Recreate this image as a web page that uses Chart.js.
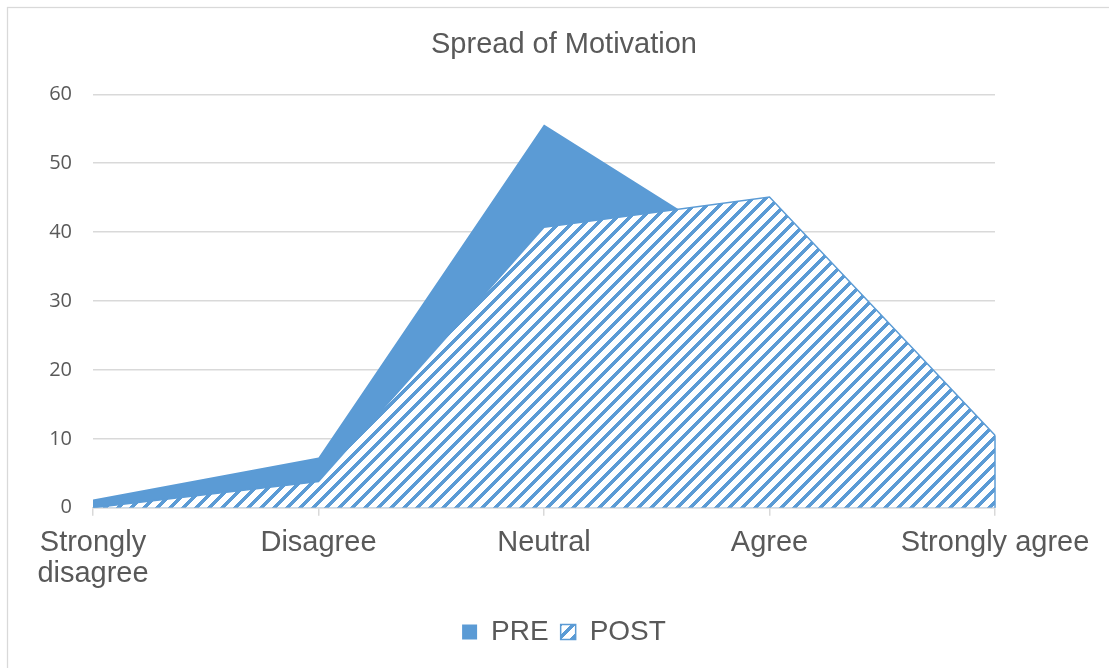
<!DOCTYPE html>
<html><head><meta charset="utf-8">
<script src="https://cdn.jsdelivr.net/npm/chart.js@4.4.1/dist/chart.umd.min.js"></script>
<style>html,body{margin:0;padding:0;overflow:hidden;background:#fff}canvas{display:block}</style>
</head><body>
<canvas id="c" width="1128" height="680" style="width:1128px;height:680px"></canvas>
<script>
const categories = [["Strongly", "disagree"], "Disagree", "Neutral", "Agree", "Strongly agree"];
const preValues = [1.2, 7.3, 55.6, 35.0, 1.0];
const postValues = [0.0, 3.8, 40.7, 45.1, 10.5];
const seriesNames = ["PRE", "POST"];
const yMin = 0, yMax = 60, yStep = 10;
const titleText = "Spread of Motivation";

const BLUE = "#5B9BD5";
const TEXT = "#595959";
const GRID = "#d9d9d9";

function makeHatch() {
  const n = 13, w = 5;
  const c = document.createElement("canvas");
  c.width = n; c.height = n;
  const g = c.getContext("2d");
  g.fillStyle = "#ffffff"; g.fillRect(0, 0, n, n);
  g.fillStyle = BLUE;
  for (let y = 0; y < n; y++) {
    for (let k = 0; k < w; k++) {
      const x = (n - 1 - y + k) % n;
      g.fillRect(x, y, 1, 1);
    }
  }
  return g.createPattern(c, "repeat");
}

const framePlugin = {
  id: "frame",
  beforeDraw(chart) {
    const ctx = chart.ctx;
    ctx.save();
    ctx.fillStyle = "#fff";
    ctx.fillRect(0, 0, chart.width, chart.height);
    ctx.strokeStyle = GRID;
    ctx.lineWidth = 1.25;
    ctx.strokeRect(7.5, 7.5, chart.width - 15, chart.height - 15);
    ctx.restore();
  }
};

const edgePlugin = {
  id: "edge",
  afterDatasetsDraw(chart) {
    const xs = chart.scales.x, ys = chart.scales.y;
    const i = postValues.length - 1;
    const x = xs.getPixelForValue(i);
    const ctx = chart.ctx;
    ctx.save();
    ctx.strokeStyle = BLUE;
    ctx.lineWidth = 1.5;
    ctx.beginPath();
    ctx.moveTo(x, ys.getPixelForValue(postValues[i]));
    ctx.lineTo(x, ys.getPixelForValue(0));
    ctx.stroke();
    ctx.restore();
  }
};

const hatch = makeHatch();

new Chart(document.getElementById("c"), {
  type: "line",
  data: {
    labels: categories,
    datasets: [
      {
        label: seriesNames[0],
        data: preValues,
        backgroundColor: BLUE,
        borderColor: BLUE,
        borderWidth: 0,
        fill: "origin",
        pointRadius: 0,
        tension: 0,
        order: 1
      },
      {
        label: seriesNames[1],
        data: postValues,
        backgroundColor: hatch,
        borderColor: BLUE,
        borderWidth: 1.5,
        fill: "origin",
        pointRadius: 0,
        tension: 0,
        order: 0
      }
    ]
  },
  options: {
    responsive: false,
    animation: false,
    devicePixelRatio: 1,
    layout: { padding: { left: 7, right: 7, top: 7, bottom: 24 } },
    plugins: {
      title: {
        display: true,
        text: titleText,
        color: TEXT,
        font: { family: "'Liberation Sans', Arial, sans-serif", size: 29, weight: "normal", lineHeight: 1.2 },
        padding: { top: 20.6, bottom: 31.9 }
      },
      legend: {
        position: "bottom",
        labels: {
          color: TEXT,
          font: { family: "'Liberation Sans', Arial, sans-serif", size: 28 },
          boxWidth: 15,
          boxHeight: 15,
          padding: 12,
          sort: (a, b) => a.datasetIndex - b.datasetIndex
        }
      },
      tooltip: { enabled: false }
    },
    scales: {
      x: {
        offset: false,
        z: 1,
        grid: { display: true, drawOnChartArea: false, drawTicks: true, tickLength: 8, color: GRID, lineWidth: 1.5 },
        border: { display: true, color: GRID, width: 1.5 },
        ticks: {
          color: TEXT,
          autoSkip: false,
          maxRotation: 0,
          minRotation: 0,
          padding: 12,
          font: { family: "'Liberation Sans', Arial, sans-serif", size: 29, lineHeight: 1.06 }
        },
        afterFit(s) { s.height = 98.3; }
      },
      y: {
        min: yMin,
        max: yMax,
        grid: { color: GRID, lineWidth: 1.5, drawTicks: false },
        border: { display: false },
        ticks: {
          stepSize: yStep,
          color: TEXT,
          padding: 21,
          font: { family: "'Open Sans', sans-serif", size: 20 }
        },
        afterFit(s) { s.width = 86; }
      },
      y2: {
        position: "right",
        display: true,
        grid: { display: false },
        border: { display: false },
        ticks: { display: false },
        afterFit(s) { s.width = 126; }
      }
    }
  },
  plugins: [framePlugin, edgePlugin]
});
</script>
</body></html>
